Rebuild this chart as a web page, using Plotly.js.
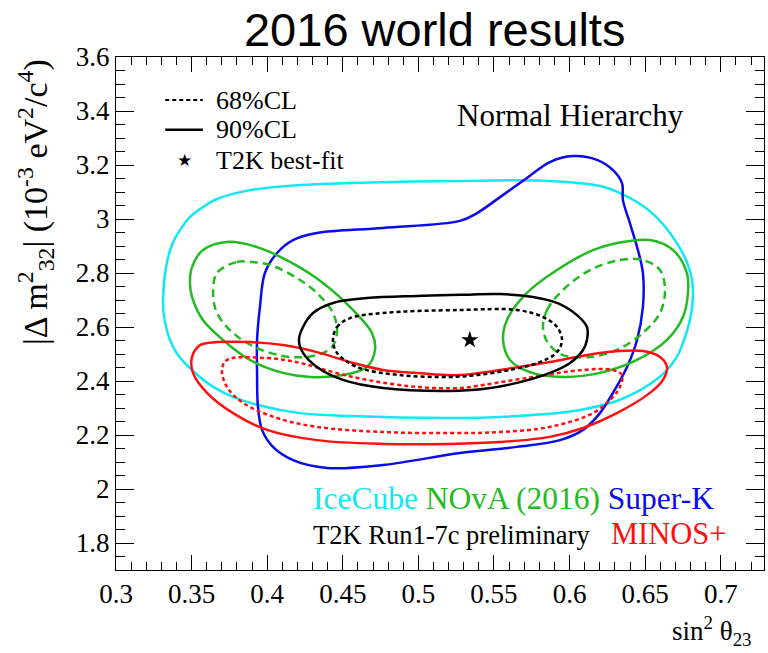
<!DOCTYPE html>
<html>
<head>
<meta charset="utf-8">
<script src="https://cdn.plot.ly/plotly-3.0.1.min.js"></script>
<style>
  html, body { margin: 0; padding: 0; background: #fff; }
  #chart { width: 768px; height: 653px; }
</style>
</head>
<body>
<div id="chart"></div>
<script>
// Allowed-region contours in the (sin^2 theta23, |dm^2_32|) plane, normal hierarchy.
// Units: x = sin^2 theta23, y = |dm^2_32| in 1e-3 eV^2/c^4.

const iceCubeX = [0.3311, 0.3331, 0.3370, 0.3423, 0.3489, 0.3575, 0.3668, 0.3886, 0.4217, 0.4548, 0.5275, 0.5870, 0.6201, 0.6333, 0.6446, 0.6552, 0.6644, 0.6717, 0.6776, 0.6810, 0.6816, 0.6796, 0.6757, 0.6710, 0.6631, 0.6532, 0.6419, 0.6313, 0.6135, 0.5983, 0.5540, 0.5275, 0.4548, 0.4217, 0.3939, 0.3774, 0.3635, 0.3509, 0.3410, 0.3357, 0.3324];
const iceCubeY = [2.689, 2.822, 2.904, 2.959, 3.007, 3.044, 3.074, 3.107, 3.126, 3.133, 3.141, 3.141, 3.122, 3.096, 3.063, 3.019, 2.963, 2.904, 2.841, 2.774, 2.707, 2.626, 2.552, 2.489, 2.433, 2.389, 2.352, 2.326, 2.300, 2.285, 2.267, 2.263, 2.270, 2.281, 2.311, 2.341, 2.381, 2.437, 2.496, 2.552, 2.619];

const superKX = [0.4329, 0.4766, 0.5275, 0.5388, 0.5540, 0.5718, 0.5870, 0.6022, 0.6181, 0.6287, 0.6347, 0.6353, 0.6399, 0.6452, 0.6485, 0.6485, 0.6446, 0.6380, 0.6287, 0.6201, 0.6089, 0.5937, 0.5652, 0.5275, 0.4766, 0.4395, 0.4171, 0.4038, 0.3966, 0.3939, 0.3933, 0.3933, 0.3952, 0.3985, 0.4065, 0.4171];
const superKY = [2.948, 2.967, 2.993, 3.022, 3.081, 3.152, 3.211, 3.233, 3.219, 3.181, 3.133, 3.070, 2.985, 2.885, 2.800, 2.674, 2.552, 2.452, 2.356, 2.281, 2.219, 2.181, 2.156, 2.133, 2.089, 2.078, 2.107, 2.156, 2.219, 2.304, 2.430, 2.552, 2.674, 2.800, 2.874, 2.922];

const novaLow90X = [0.3489, 0.3503, 0.3575, 0.3734, 0.3933, 0.4151, 0.4369, 0.4567, 0.4693, 0.4713, 0.4660, 0.4501, 0.4283, 0.4104, 0.3886, 0.3708, 0.3575, 0.3503];
const novaLow90Y = [2.763, 2.822, 2.885, 2.915, 2.896, 2.841, 2.763, 2.663, 2.578, 2.515, 2.452, 2.422, 2.415, 2.430, 2.478, 2.552, 2.626, 2.711];

const novaLow68X = [0.3668, 0.3800, 0.3886, 0.4019, 0.4197, 0.4329, 0.4435, 0.4462, 0.4429, 0.4329, 0.4151, 0.3933, 0.3774, 0.3668, 0.3642];
const novaLow68Y = [2.800, 2.841, 2.841, 2.830, 2.781, 2.726, 2.652, 2.581, 2.526, 2.496, 2.489, 2.522, 2.578, 2.652, 2.726];

const novaHigh90X = [0.5560, 0.5586, 0.5718, 0.5917, 0.6155, 0.6353, 0.6532, 0.6684, 0.6776, 0.6783, 0.6750, 0.6644, 0.6446, 0.6201, 0.5956, 0.5738, 0.5606];
const novaHigh90Y = [2.552, 2.626, 2.726, 2.811, 2.885, 2.915, 2.922, 2.885, 2.800, 2.726, 2.637, 2.552, 2.478, 2.430, 2.415, 2.433, 2.478];

const novaHigh68X = [0.5824, 0.5851, 0.5956, 0.6135, 0.6333, 0.6485, 0.6598, 0.6631, 0.6598, 0.6485, 0.6313, 0.6135, 0.5956, 0.5857];
const novaHigh68Y = [2.600, 2.663, 2.737, 2.811, 2.848, 2.848, 2.811, 2.737, 2.652, 2.578, 2.515, 2.489, 2.496, 2.541];

const t2k90X = [0.4210, 0.4237, 0.4303, 0.4435, 0.4660, 0.4991, 0.5275, 0.5540, 0.5758, 0.5917, 0.6049, 0.6115, 0.6115, 0.6089, 0.6003, 0.5870, 0.5652, 0.5427, 0.5209, 0.4766, 0.4501, 0.4329, 0.4237];
const t2k90Y = [2.552, 2.600, 2.652, 2.689, 2.707, 2.715, 2.719, 2.722, 2.711, 2.689, 2.644, 2.600, 2.552, 2.515, 2.467, 2.430, 2.393, 2.370, 2.363, 2.374, 2.404, 2.452, 2.504];

const t2k68X = [0.4435, 0.4462, 0.4548, 0.4766, 0.5275, 0.5652, 0.5824, 0.5917, 0.5950, 0.5917, 0.5804, 0.5606, 0.5388, 0.5209, 0.4878, 0.4594, 0.4462];
const t2k68Y = [2.552, 2.600, 2.633, 2.652, 2.663, 2.663, 2.637, 2.600, 2.552, 2.507, 2.470, 2.441, 2.422, 2.415, 2.422, 2.452, 2.504];

const minos90X = [0.3556, 0.3668, 0.3886, 0.4104, 0.4329, 0.4548, 0.4766, 0.4991, 0.5275, 0.5540, 0.5870, 0.6201, 0.6485, 0.6598, 0.6644, 0.6618, 0.6532, 0.6313, 0.6089, 0.5870, 0.5540, 0.5209, 0.4766, 0.4329, 0.3999, 0.3774, 0.3602, 0.3509, 0.3503];
const minos90Y = [2.533, 2.544, 2.544, 2.533, 2.507, 2.470, 2.441, 2.430, 2.422, 2.441, 2.470, 2.504, 2.511, 2.489, 2.452, 2.404, 2.356, 2.281, 2.226, 2.193, 2.174, 2.167, 2.167, 2.181, 2.219, 2.281, 2.356, 2.430, 2.489];

const minos68X = [0.3734, 0.3999, 0.4217, 0.4435, 0.4660, 0.4991, 0.5275, 0.5427, 0.5758, 0.6089, 0.6287, 0.6347, 0.6333, 0.6287, 0.6155, 0.5870, 0.5540, 0.5209, 0.4766, 0.4329, 0.4065, 0.3840, 0.3734, 0.3701];
const minos68Y = [2.478, 2.485, 2.467, 2.433, 2.404, 2.378, 2.374, 2.385, 2.415, 2.441, 2.441, 2.422, 2.378, 2.341, 2.281, 2.230, 2.211, 2.207, 2.211, 2.230, 2.263, 2.319, 2.378, 2.441];

const t2kBestFitX = [0.534];
const t2kBestFitY = [2.552];

const xTickVals = [0.3, 0.35, 0.4, 0.45, 0.5, 0.55, 0.6, 0.65, 0.7];
const xTickText = ['0.3', '0.35', '0.4', '0.45', '0.5', '0.55', '0.6', '0.65', '0.7'];
const yTickVals = [1.8, 2.0, 2.2, 2.4, 2.6, 2.8, 3.0, 3.2, 3.4, 3.6];
const yTickText = ['1.8', '2', '2.2', '2.4', '2.6', '2.8', '3', '3.2', '3.4', '3.6'];

const legendLabels = ['68%CL', '90%CL', 'T2K best-fit'];

const COL = {
  icecube: '#10e8f4',
  nova: '#22bb22',
  superk: '#0a0aee',
  t2k: '#000000',
  minos: '#ff1010'
};
const DOT = '4px,3px';
const DASH = '8px,5px';
const SERIF = 'Liberation Serif';
const SANS = 'Liberation Sans';
const TICK_FONT = { family: SERIF, size: 27, color: '#000' };

// close a contour by repeating its first vertex
function closed(a) { return a.concat([a[0]]); }

function contour(xs, ys, color, dash) {
  return {
    type: 'scatter', mode: 'lines',
    x: closed(xs), y: closed(ys),
    line: { color: color, width: 2.5, dash: dash, shape: 'spline', smoothing: 1 },
    showlegend: false, hoverinfo: 'skip'
  };
}

const traces = [
  contour(iceCubeX, iceCubeY, COL.icecube, 'solid'),
  contour(superKX, superKY, COL.superk, 'solid'),
  contour(novaLow90X, novaLow90Y, COL.nova, 'solid'),
  contour(novaLow68X, novaLow68Y, COL.nova, DASH),
  contour(novaHigh90X, novaHigh90Y, COL.nova, 'solid'),
  contour(novaHigh68X, novaHigh68Y, COL.nova, DASH),
  contour(minos90X, minos90Y, COL.minos, 'solid'),
  contour(minos68X, minos68Y, COL.minos, DOT),
  contour(t2k90X, t2k90Y, COL.t2k, 'solid'),
  contour(t2k68X, t2k68Y, COL.t2k, DOT),
  {
    type: 'scatter', mode: 'markers',
    x: t2kBestFitX, y: t2kBestFitY,
    marker: { symbol: 'star', size: 13, color: '#000', line: { width: 0 } },
    showlegend: false, hoverinfo: 'skip'
  }
];

// key for line styles, drawn in paper coordinates
const keyX0 = 0.076, keyX1 = 0.134, keyTextX = 0.152;
const keyRows = [0.916, 0.858, 0.799];

const shapes = [
  { type: 'line', xref: 'paper', yref: 'paper', x0: keyX0, x1: keyX1, y0: keyRows[0], y1: keyRows[0],
    line: { color: '#000', width: 2, dash: DOT } },
  { type: 'line', xref: 'paper', yref: 'paper', x0: keyX0, x1: keyX1, y0: keyRows[1], y1: keyRows[1],
    line: { color: '#000', width: 2.5 } }
];

const annotations = [
  { xref: 'paper', yref: 'paper', x: (keyX0 + keyX1) / 2, y: keyRows[2], xanchor: 'center', yanchor: 'middle',
    text: '★', showarrow: false, font: { family: 'DejaVu Sans', size: 17, color: '#000' } }
];
legendLabels.forEach(function (lab, i) {
  annotations.push({
    xref: 'paper', yref: 'paper', x: keyTextX, y: keyRows[i], xanchor: 'left', yanchor: 'middle',
    text: lab, showarrow: false, font: { family: SERIF, size: 26, color: '#000' }
  });
});

annotations.push(
  {
    xref: 'paper', yref: 'paper', x: 0.523, y: 0.885, xanchor: 'left', yanchor: 'middle',
    text: 'Normal Hierarchy', showarrow: false,
    font: { family: SERIF, size: 31, color: '#000' }
  },
  {
    xref: 'paper', yref: 'paper', x: 0.301, y: 0.140, xanchor: 'left', yanchor: 'middle',
    text: '<span style="color:' + COL.icecube + '">IceCube</span> ' +
          '<span style="color:' + COL.nova + '">NOvA (2016)</span> ' +
          '<span style="color:' + COL.superk + '">Super-K</span>',
    showarrow: false,
    font: { family: SERIF, size: 31.5, color: '#000' }
  },
  {
    xref: 'paper', yref: 'paper', x: 0.301, y: 0.069, xanchor: 'left', yanchor: 'middle',
    text: 'T2K Run1-7c preliminary', showarrow: false,
    font: { family: SERIF, size: 26.5, color: '#000' }
  },
  {
    xref: 'paper', yref: 'paper', x: 0.761, y: 0.071, xanchor: 'left', yanchor: 'middle',
    text: 'MINOS+', showarrow: false,
    font: { family: SERIF, size: 30.5, color: COL.minos }
  },
  {
    xref: 'paper', yref: 'paper', x: 0.985, y: -0.118, xanchor: 'right', yanchor: 'middle',
    text: 'sin<sup>2</sup> θ<sub>23</sub>', showarrow: false,
    font: { family: SERIF, size: 27, color: '#000' }
  },
  {
    xref: 'paper', yref: 'paper', x: -0.125, y: 1.0, xanchor: 'center', yanchor: 'top',
    text: '|Δ m<sup>2</sup><sub>32</sub>| (10<sup>-3</sup> eV<sup>2</sup>/c<sup>4</sup>)',
    textangle: -90, showarrow: false,
    font: { family: SERIF, size: 34, color: '#000' }
  }
);

const layout = {
  width: 768, height: 653,
  margin: { l: 116, r: 4, t: 57, b: 83 },
  paper_bgcolor: '#fff', plot_bgcolor: '#fff',
  font: { family: SERIF, size: 26, color: '#000' },
  showlegend: false,
  title: {
    text: '2016 world results',
    font: { family: SANS, size: 47, color: '#000' },
    xref: 'container', x: 0.566, xanchor: 'center',
    yref: 'container', y: 0.955, yanchor: 'middle'
  },
  xaxis: {
    range: [0.3, 0.7286],
    tickmode: 'array', tickvals: xTickVals, ticktext: xTickText,
    ticks: 'inside', ticklen: 15, tickwidth: 1, tickcolor: '#000',
    minor: { dtick: 0.01, ticks: 'inside', ticklen: 8, tickcolor: '#000', tickwidth: 1 },
    showline: true, linecolor: '#000', linewidth: 1, mirror: 'allticks',
    showgrid: false, zeroline: false, automargin: false,
    tickfont: TICK_FONT
  },
  yaxis: {
    range: [1.7, 3.6],
    tickmode: 'array', tickvals: yTickVals, ticktext: yTickText,
    ticks: 'inside', ticklen: 18, tickwidth: 1, tickcolor: '#000',
    minor: { dtick: 0.05, ticks: 'inside', ticklen: 9, tickcolor: '#000', tickwidth: 1 },
    showline: true, linecolor: '#000', linewidth: 1, mirror: 'allticks',
    showgrid: false, zeroline: false, automargin: false,
    tickfont: TICK_FONT
  },
  shapes: shapes,
  annotations: annotations
};

Plotly.newPlot('chart', traces, layout, { displayModeBar: false, staticPlot: true });
</script>
</body>
</html>
